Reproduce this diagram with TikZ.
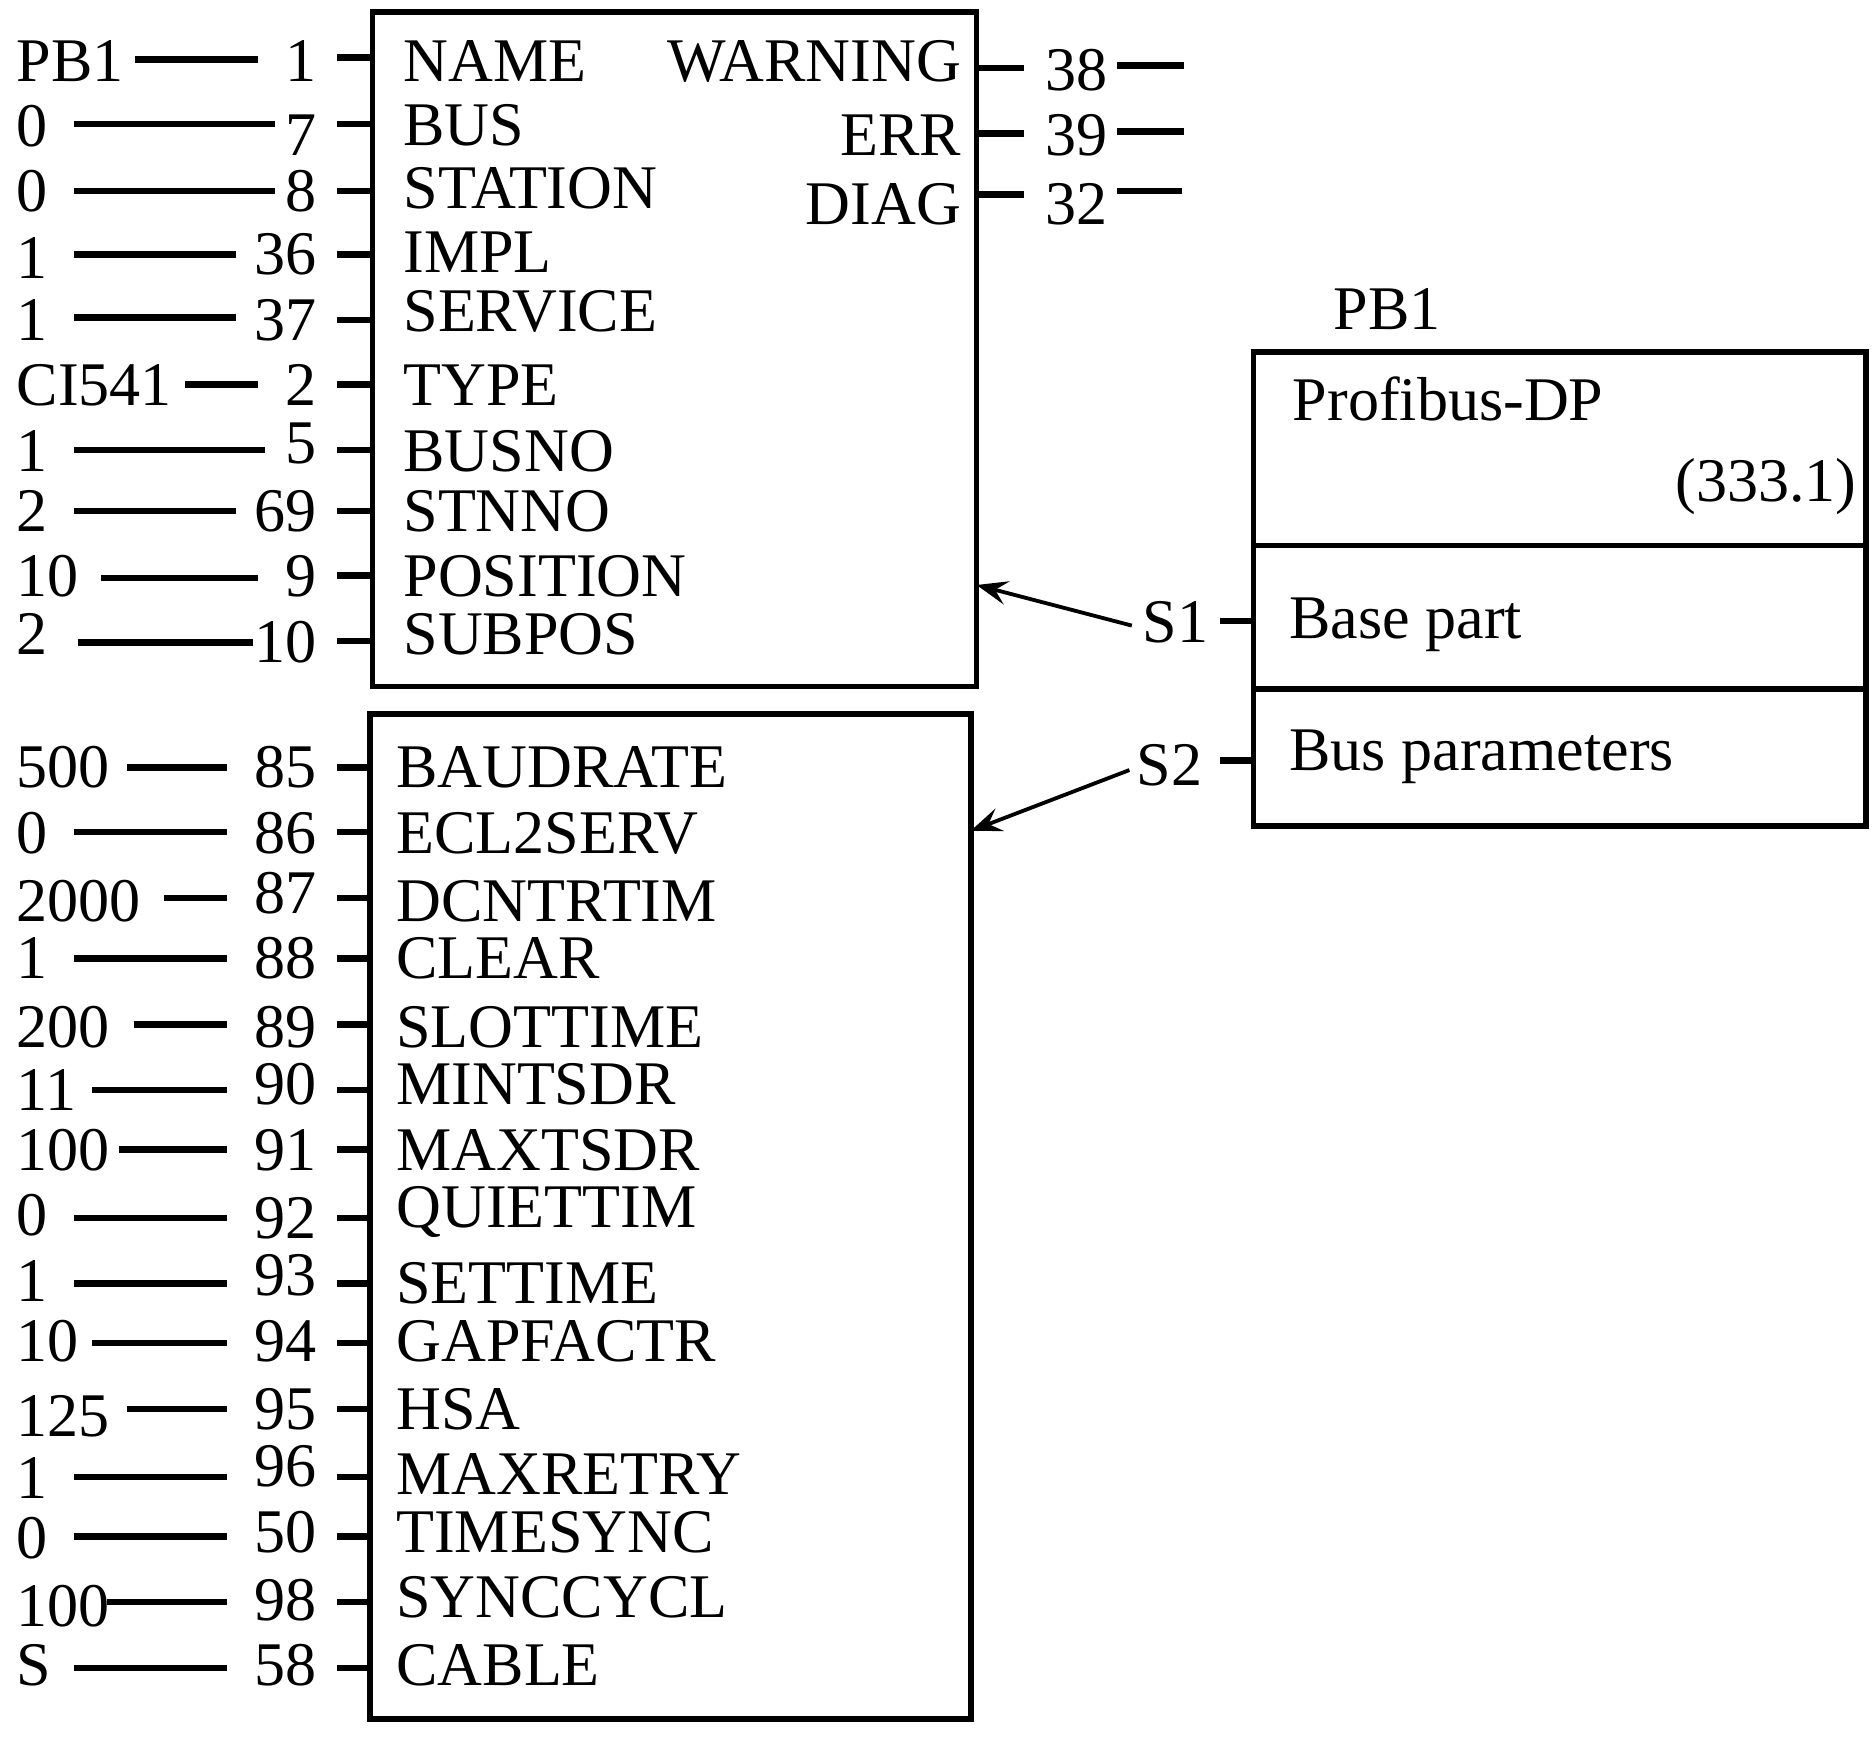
\documentclass[tikz,border=0pt]{standalone}
\usepackage{fontspec}
\setmainfont{Liberation Serif}
\usetikzlibrary{arrows.meta}
\begin{document}
\begin{tikzpicture}[x=0.5pt,y=-0.5pt,
  font=\fontsize{26}{26}\selectfont,
  wire/.style={line width=2.7pt},
  frame/.style={draw, line width=2.4pt, inner sep=0pt, outer sep=0pt},
  txtw/.style={inner sep=0pt, outer sep=0pt, anchor=base west},
  txte/.style={inner sep=0pt, outer sep=0pt, anchor=base east},
  ptr/.style={line width=1.6pt, -{Stealth[length=13pt,width=10pt,inset=5pt]}}
]
\useasboundingbox (0,0) rectangle (1568,1460);

% ---------- upper block ----------
\node[frame, anchor=north west, minimum width=253pt, minimum height=282.5pt] (ubox) at (312,10) {};
\foreach \py/\val/\vb/\xs/\xe/\ly/\num/\nb/\lab/\lb [count=\i] in {
 48/PB1/68/113/216/50/1/68/NAME/68,
 104/0/123/62/230/104/7/130/BUS/122,
 160/0/177/62/230/160/8/177/STATION/175,
 213/1/233/62/198/213/36/230/IMPL/228,
 268/1/285/62/198/266/37/285/SERVICE/278,
 322/CI541/340/155/216/322/2/340/TYPE/340,
 377/1/395/62/222/377/5/388/BUSNO/395,
 428/2/445/62/198/428/69/445/STNNO/445,
 482/10/500/85/216/484/9/500/POSITION/500,
 537/2/548/65/212/538/10/555/SUBPOS/548}{
  \node[txtw] (uval\i) at (14,\vb) {\val};
  \node[txte] (unum\i) at (265,\nb) {\num};
  \node[txtw] (ulab\i) at (338,\lb) {\lab};
  \coordinate (uvs\i) at (\xs,\ly);
  \coordinate (uve\i) at (\xe,\ly);
  \coordinate (ups\i) at (282,\py);
  \coordinate (upe\i) at (ubox.west |- 0,\py);
  \draw[wire] (uvs\i) -- (uve\i);
  \draw[wire] (ups\i) -- (upe\i);
}
\foreach \lab/\lb/\py/\num/\nb/\ly/\le [count=\i] in {
 WARNING/68/57/38/76/55/992,
 ERR/130/112/39/130/110/992,
 DIAG/188/163/32/188/160/990}{
  \node[txte] (olab\i) at (805,\lb) {\lab};
  \node[txtw] (onum\i) at (876,\nb) {\num};
  \coordinate (ops\i) at (ubox.east |- 0,\py);
  \coordinate (ope\i) at (858,\py);
  \coordinate (ols\i) at (936,\ly);
  \coordinate (ole\i) at (\le,\ly);
  \draw[wire] (ops\i) -- (ope\i);
  \draw[wire] (ols\i) -- (ole\i);
}

% ---------- lower block ----------
\node[frame, anchor=north west, minimum width=251.5pt, minimum height=421pt] (lbox) at (310,598) {};
\foreach \py/\val/\vb/\xs/\num/\nb/\lab/\lb [count=\i] in {
 643/500/660/106/85/660/BAUDRATE/660,
 697/0/715/62/86/715/ECL2SERV/715,
 752/2000/772/137/87/765/DCNTRTIM/772,
 803/1/820/62/88/820/CLEAR/820,
 858/200/877/112/89/877/SLOTTIME/877,
 913/11/930/77/90/925/MINTSDR/925,
 963/100/980/100/91/980/MAXTSDR/980,
 1020/0/1035/62/92/1037/QUIETTIM/1028,
 1075/1/1090/62/93/1085/SETTIME/1092,
 1125/10/1140/77/94/1140/GAPFACTR/1140,
 1180/125/1203/106/95/1197/HSA/1197,
 1237/1/1255/62/96/1245/MAXRETRY/1252,
 1287/0/1305/62/50/1300/TIMESYNC/1300,
 1342/100/1362/90/98/1357/SYNCCYCL/1355,
 1397/S/1412/62/58/1412/CABLE/1412}{
  \node[txtw] (lval\i) at (14,\vb) {\val};
  \node[txte] (lnum\i) at (265,\nb) {\num};
  \node[txtw] (llab\i) at (332,\lb) {\lab};
  \coordinate (lvs\i) at (\xs,\py);
  \coordinate (lve\i) at (190,\py);
  \coordinate (lps\i) at (282,\py);
  \coordinate (lpe\i) at (lbox.west |- 0,\py);
  \draw[wire] (lvs\i) -- (lve\i);
  \draw[wire] (lps\i) -- (lpe\i);
}

% ---------- right block ----------
\node[txtw] (pbtitle) at (1117,276) {PB1};
\node[frame, anchor=north west, minimum width=256.5pt, minimum height=81pt] (rtop) at (1050,295) {};
\node[frame, anchor=north west, minimum width=256.5pt, minimum height=60pt] (rmid) at (1050,457) {};
\node[frame, anchor=north west, minimum width=256.5pt, minimum height=57.5pt] (rbot) at (1050,577) {};
\node[txtw] (profi) at (1083,352) {Profibus-DP};
\node[txte] (ver) at (1555,420) {(333.1)};
\node[txtw] (base) at (1080,535) {Base part};
\node[txtw] (busp) at (1080,645) {Bus parameters};

\node[txte] (s1) at (1012,538) {S1};
\node[txte] (s2) at (1007,658) {S2};
\coordinate (s1p) at (1022,520);
\coordinate (s2p) at (1022,637);
\draw[wire] (s1p) -- (rmid.west |- s1p);
\draw[wire] (s2p) -- (rbot.west |- s2p);

\coordinate (a1s) at (948,524);
\coordinate (a1e) at (ubox.east |- 0,490);
\coordinate (a2s) at (946,645);
\coordinate (a2e) at (lbox.east |- 0,696);
\draw[ptr] (a1s) -- (a1e);
\draw[ptr] (a2s) -- (a2e);
\end{tikzpicture}
\end{document}
